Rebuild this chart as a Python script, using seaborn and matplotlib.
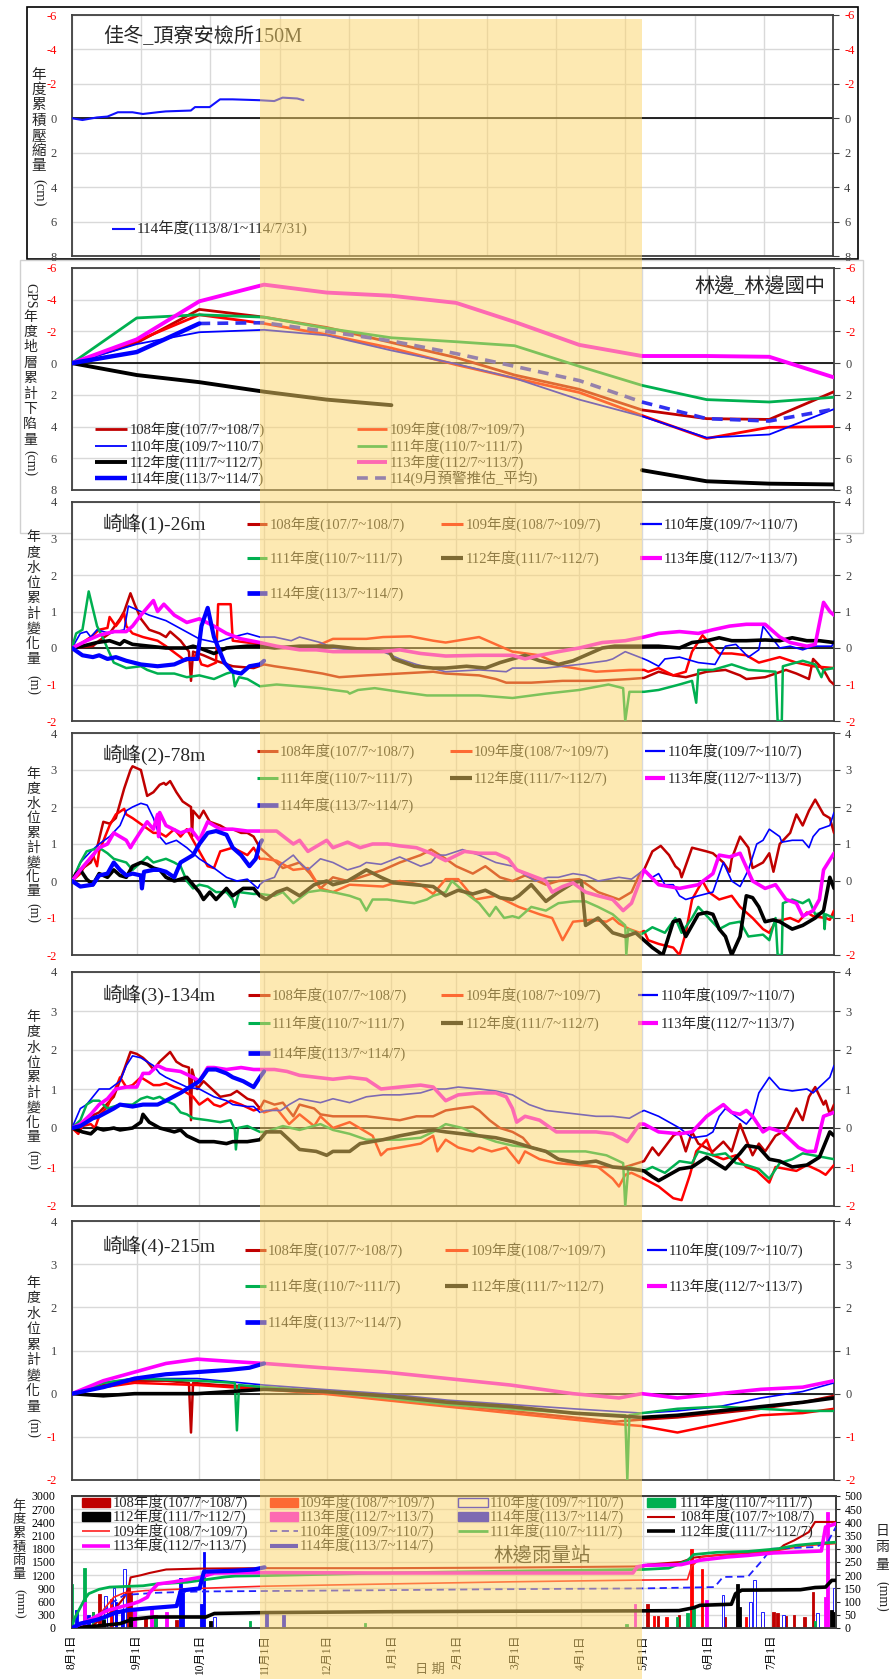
import matplotlib
matplotlib.use("Agg")
import matplotlib.pyplot as plt
import seaborn as sns
import pandas as pd
from matplotlib.patches import Rectangle
from matplotlib.lines import Line2D

sns.set_style("white")
plt.rcParams["font.family"] = ["Liberation Serif", "Noto Sans CJK TC"]
plt.rcParams["axes.unicode_minus"] = False

# ======================= DATA =======================
MONTH_DAYS = [0, 31, 61, 92, 122, 153, 184, 212, 243, 273, 304, 334, 365]
MONTH_LABELS = ["8月1日", "9月1日", "10月1日", "11月1日", "12月1日", "1月1日",
                "2月1日", "3月1日", "4月1日", "5月1日", "6月1日", "7月1日"]
YEARS = ["108", "109", "110", "111", "112", "113", "114"]
YEAR_LABELS = ["108年度(107/7~108/7)", "109年度(108/7~109/7)", "110年度(109/7~110/7)",
               "111年度(110/7~111/7)", "112年度(111/7~112/7)", "113年度(112/7~113/7)",
               "114年度(113/7~114/7)"]

# Panel 1: 佳冬_頂寮安檢所150M (cm, day since Aug 1)
jd_114 = [(0, 0), (5, 0.1), (12, -0.05), (17, -0.1), (22, -0.35), (29, -0.35), (34, -0.25),
          (41, -0.35), (45, -0.4), (57, -0.45), (59, -0.65), (66, -0.65), (71, -1.1), (77, -1.1),
          (90, -1.05), (97, -1.0), (101, -1.2), (108, -1.15), (111, -1.05)]

# Panel 2: GPS 林邊_林邊國中 (cm, monthly)
gps_108 = [0, -1.28, -3.39, -2.9, -2.25, -1.3, -0.35, 0.75, 1.65, 2.95, 3.5, 3.55, 1.8]
gps_109 = [0, -1.4, -3.05, -2.5, -1.8, -0.95, 0.1, 0.95, 1.85, 3.3, 4.75, 4.05, 4.0]
gps_110 = [0, -1.2, -1.95, -2.1, -1.75, -0.8, 0.05, 0.95, 2.3, 3.35, 4.7, 4.5, 2.9]
gps_111 = [0, -2.85, -3.05, -2.9, -2.2, -1.6, -1.35, -1.1, 0.2, 1.4, 2.3, 2.45, 2.15]
gps_112 = [0, 0.75, 1.2, 1.8, 2.3, 2.65, None, None, None, 6.75, 7.45, 7.6, 7.65]
gps_113 = [0, -1.5, -3.9, -4.95, -4.45, -4.25, -3.8, -2.6, -1.15, -0.45, -0.45, -0.4, 0.9]
gps_114 = [0, -0.7, -2.5, None, None, None, None, None, None, None, None, None, None]
gps_114_est = [None, None, -2.5, -2.55, -2.0, -1.4, -0.6, 0.2, 1.1, 2.45, 3.5, 3.65, 2.9]

# Panel 3: 崎峰(1)-26m (m)
qf1_108 = [(0, 0), (10, 0.05), (13, 0.2), (18, 0.4), (23, 0.8), (25, 1.0), (28, 1.5), (30, 1.2), (33, 0.8),
           (37, 0.5), (42, 0.4), (45, 0.3), (47, 0.45), (52, 0.2), (56, -0.1), (57, -0.9), (58, -0.1),
           (63, -0.2), (69, -0.35), (77, -0.5), (87, -0.55), (92, -0.45), (97, -0.5), (109, -0.6),
           (120, -0.7), (128, -0.8), (141, -0.75), (157, -0.7), (173, -0.65), (179, -0.7), (195, -0.75),
           (203, -0.85), (208, -0.95), (220, -0.95), (235, -0.9), (251, -0.9), (267, -0.85), (274, -0.82),
           (281, -0.65), (288, -0.75), (294, -0.8), (304, -0.65), (313, -0.6), (320, -0.75), (323, -0.85),
           (332, -0.8), (342, -0.6), (347, -0.7), (353, -0.85), (355, -0.3), (360, -0.6), (363, -0.9),
           (365, -1.0)]
qf1_109 = [(0, 0), (5, 0.15), (9, 0.3), (13, 0.5), (17, 0.55), (18, 0.85), (21, 0.6), (23, 0.75), (25, 0.95),
           (26, 0.6), (29, 0.4), (34, 0.3), (41, 0.2), (45, 0.05), (52, -0.25), (54, -0.35), (57, -0.3),
           (60, -0.15), (62, -0.45), (65, -0.5), (69, -0.4), (70, 1.2), (76, 1.2), (77, 0.2), (84, 0.15),
           (90, 0.1), (101, 0.0), (109, 0.0), (117, 0.05), (125, 0.25), (141, 0.25), (149, 0.3), (162, 0.32),
           (173, 0.2), (179, 0.15), (195, 0.3), (211, -0.1), (224, -0.2), (235, -0.5), (251, -0.65),
           (267, -0.6), (274, -0.6), (276, -0.65), (281, -0.55), (288, -0.75), (294, -0.65), (297, -0.1),
           (302, 0.35), (305, 0.15), (310, -0.15), (316, -0.15), (323, -0.2), (329, -0.4), (339, -0.25),
           (347, -0.4), (355, -0.5), (365, -0.55)]
qf1_110 = [(0, 0), (4, 0.4), (7, 0.45), (9, 0.3), (12, 0.5), (18, 0.4), (25, 0.5), (27, 1.15), (29, 1.1),
           (37, 0.9), (45, 0.75), (53, 0.5), (61, 0.25), (69, 0.15), (77, 0.3), (84, 0.4), (90, 0.3),
           (97, 0.3), (105, 0.2), (109, 0.3), (119, 0.15), (125, 0.0), (133, -0.05), (141, -0.1),
           (149, -0.1), (157, -0.3), (165, -0.45), (179, -0.65), (195, -0.6), (208, -0.65), (211, -0.55),
           (227, -0.55), (243, -0.45), (256, -0.35), (259, -0.3), (265, -0.1), (274, -0.3), (276, -0.35),
           (281, -0.5), (284, -0.3), (291, -0.25), (300, -0.4), (308, -0.45), (313, 0.05), (318, 0.1),
           (324, -0.25), (329, -0.05), (331, 0.6), (335, 0.3), (339, 0.0), (344, 0.05), (350, -0.05),
           (355, 0.05), (364, 0.05), (365, 0.2)]
qf1_111 = [(0, 0), (2, 0.4), (5, 0.5), (8, 1.55), (12, 0.6), (15, 0.25), (20, -0.4), (26, -0.55), (33, -0.5),
           (36, -0.6), (41, -0.7), (49, -0.7), (55, -0.8), (61, -0.75), (68, -0.85), (74, -0.7), (77, -0.65),
           (78, -1.05), (80, -0.8), (84, -0.85), (90, -1.05), (98, -1.0), (109, -1.05), (119, -1.1),
           (125, -1.15), (132, -1.2), (133, -1.25), (137, -1.15), (145, -1.1), (157, -1.2), (170, -1.3),
           (179, -1.3), (195, -1.3), (211, -1.37), (227, -1.25), (243, -1.15), (257, -1.0), (264, -1.1),
           (265, -2.0), (267, -1.2), (274, -1.2), (281, -1.15), (291, -1.0), (297, -0.9), (299, -1.5),
           (300, -0.6), (307, -0.6), (316, -0.45), (324, -0.6), (337, -0.65), (338, -2.0), (340, -2.0),
           (340.5, -0.5), (350, -0.35), (356, -0.45), (359, -0.8), (360, -0.6), (365, -0.55)]
qf1_112 = [(0, 0), (5, 0.05), (12, 0.15), (18, 0.2), (23, 0.1), (25, 0.2), (29, 0.1), (37, 0.05), (45, 0.0),
           (55, 0.0), (58, 0.05), (61, 0.0), (68, -0.15), (74, 0.0), (84, 0.05), (90, 0.05), (97, 0.0),
           (109, 0.05), (125, 0.05), (133, 0.0), (141, -0.05), (152, -0.1), (154, -0.3), (164, -0.5),
           (173, -0.55), (179, -0.55), (189, -0.5), (198, -0.55), (205, -0.4), (211, -0.3), (217, -0.2),
           (224, -0.35), (233, -0.45), (240, -0.35), (246, -0.2), (254, 0.0), (260, 0.05), (268, 0.05),
           (274, 0.05), (281, 0.05), (291, 0.0), (297, 0.15), (304, 0.2), (310, 0.28), (316, 0.2),
           (323, 0.2), (332, 0.22), (339, 0.2), (345, 0.28), (352, 0.2), (358, 0.2), (365, 0.15)]
qf1_113 = [(0, 0), (7, 0.2), (13, 0.35), (20, 0.45), (26, 0.45), (29, 0.6), (33, 0.9), (36, 1.1), (39, 1.3),
           (41, 1.0), (44, 1.2), (49, 0.9), (55, 0.7), (61, 0.8), (68, 0.6), (74, 0.4), (81, 0.25), (90, 0.15),
           (98, 0.05), (109, -0.05), (117, -0.05), (125, -0.1), (138, -0.1), (149, -0.1), (157, -0.05),
           (167, -0.15), (179, -0.22), (195, -0.2), (211, -0.2), (217, -0.3), (224, -0.2), (233, -0.1),
           (243, 0.0), (254, 0.15), (265, 0.2), (274, 0.3), (281, 0.4), (291, 0.45), (300, 0.4), (307, 0.5),
           (315, 0.6), (323, 0.65), (332, 0.65), (339, 0.3), (344, 0.15), (352, 0.05), (356, 0.1),
           (360, 1.25), (363, 1.0), (365, 0.9)]
qf1_114 = [(0, 0), (5, -0.2), (10, -0.25), (13, -0.2), (17, -0.3), (21, -0.25), (26, -0.35), (33, -0.45),
           (41, -0.5), (49, -0.45), (55, -0.3), (60, -0.3), (62, 0.6), (65, 1.1), (68, 0.3), (73, -0.4),
           (77, -0.65), (81, -0.7), (85, -0.5), (90, -0.45), (92, -0.35)]

# Panel 4: 崎峰(2)-78m (m)
qf2_108 = [(0, 0), (4, 0.3), (9, 0.5), (12, 0.9), (15, 1.6), (18, 1.55), (21, 1.7), (25, 2.5), (28, 3.0),
           (29, 3.1), (33, 3.0), (36, 2.3), (39, 2.4), (42, 2.6), (44, 2.65), (45, 2.6), (47, 2.7), (50, 2.4),
           (53, 2.15), (57, 2.0), (57.5, 1.2), (58, 1.9), (61, 1.7), (63, 1.9), (66, 1.6), (71, 1.5),
           (74, 1.4), (77, 1.4), (81, 1.3), (84, 1.3), (87, 1.2), (90, 0.9), (92, 0.8), (101, 0.35),
           (109, 0.5), (114, 0.2), (119, -0.2), (125, 0.1), (132, 0.0), (138, 0.1), (149, 0.3), (157, 0.5),
           (167, 0.7), (172, 0.85), (179, 0.6), (184, 0.4), (192, 0.2), (198, 0.4), (205, 0.1), (211, 0.0),
           (217, 0.15), (227, -0.1), (233, 0.0), (243, 0.05), (252, -0.3), (262, -0.5), (268, -0.3),
           (272, 0.2), (274, 0.3), (278, 0.8), (282, 0.95), (286, 0.7), (289, 0.4), (291, 0.3), (292, 0.1),
           (297, 0.9), (304, 0.8), (307, 0.75), (312, 0.5), (315, 0.25), (316, 0.6), (320, 1.2), (324, 0.9),
           (326, 0.35), (331, 0.5), (334, 0.75), (336, 0.25), (339, 1.0), (344, 1.3), (347, 1.8),
           (350, 1.5), (353, 1.9), (356, 2.2), (360, 1.8), (363, 1.7), (365, 1.3)]
qf2_109 = [(0, 0), (4, 0.2), (7, 0.5), (10, 0.7), (12, 0.4), (13, 0.8), (18, 1.5), (21, 1.8), (25, 1.95),
           (26, 1.8), (29, 1.7), (34, 1.5), (39, 1.3), (42, 1.3), (45, 1.2), (49, 1.4), (52, 1.2), (55, 1.4),
           (60, 0.9), (65, 0.4), (68, 0.35), (71, 0.8), (77, 0.9), (84, 0.7), (87, 0.9), (90, 0.6), (92, 0.6),
           (98, 0.55), (106, 0.3), (113, 0.35), (119, -0.2), (125, -0.3), (133, -0.1), (149, -0.15),
           (157, 0.0), (167, -0.1), (173, -0.35), (179, 0.05), (185, 0.05), (193, -0.5), (203, -0.4),
           (214, -0.7), (224, -0.9), (230, -1.0), (235, -1.6), (240, -1.1), (249, -1.05), (256, -1.1),
           (259, -1.0), (262, -1.15), (267, -1.3), (272, -1.4), (274, -1.35), (276, -1.6), (281, -1.7),
           (288, -1.8), (291, -2.0), (294, -1.4), (297, -0.5), (302, 0.0), (305, -0.3), (310, -0.5),
           (316, -0.4), (320, -0.7), (326, -1.0), (331, -1.3), (334, -1.4), (337, -1.1), (344, -1.0),
           (348, -1.1), (352, -0.85), (355, -0.95), (361, -1.0), (363, -1.05), (365, -0.8)]
qf2_110 = [(0, 0), (4, 0.5), (9, 0.8), (13, 1.0), (18, 1.2), (23, 1.5), (26, 1.9), (29, 2.0), (33, 2.1),
           (36, 2.05), (39, 1.7), (42, 1.2), (45, 1.0), (50, 1.1), (55, 0.9), (61, 0.6), (68, 0.35), (74, 0.1),
           (79, 0.0), (84, 0.05), (89, -0.2), (90, -0.1), (92, 0.0), (97, 0.1), (100, 0.45), (106, 0.7),
           (109, 0.5), (113, 0.3), (119, 0.6), (125, 0.5), (132, 0.3), (138, 0.4), (141, 0.5), (148, 0.45),
           (157, 0.65), (167, 0.4), (172, 0.5), (175, 0.7), (179, 0.7), (187, 0.85), (195, 0.7), (203, 0.5),
           (211, 0.4), (216, 0.2), (222, 0.0), (228, 0.1), (233, 0.1), (240, 0.2), (246, 0.15), (252, 0.0),
           (262, 0.1), (268, 0.05), (274, 0.3), (278, 0.1), (281, 0.2), (284, -0.1), (288, -0.1), (291, -0.4),
           (294, -0.5), (300, -0.4), (307, -0.3), (312, 0.5), (316, 0.0), (320, -0.15), (324, 0.3),
           (328, 1.0), (331, 1.1), (334, 1.4), (339, 1.2), (340, 1.05), (345, 1.1), (350, 1.1), (353, 0.9),
           (355, 1.2), (358, 1.4), (363, 1.5), (365, 1.85)]
qf2_111 = [(0, 0), (4, 0.5), (7, 0.8), (10, 0.85), (13, 0.9), (17, 0.75), (20, 0.6), (23, 0.55), (26, 0.5),
           (29, 0.3), (33, 0.5), (36, 0.65), (39, 0.5), (42, 0.55), (45, 0.6), (49, 0.5), (52, 0.4), (55, 0.0),
           (58, -0.2), (61, -0.1), (65, -0.15), (69, -0.3), (74, -0.3), (77, -0.5), (78, -0.7), (80, -0.3),
           (87, -0.35), (90, -0.35), (97, -0.4), (101, -0.3), (106, -0.6), (113, -0.3), (119, -0.25),
           (125, -0.3), (133, -0.4), (138, -0.5), (141, -0.8), (144, -0.5), (151, -0.5), (157, -0.55),
           (164, -0.6), (170, -0.5), (173, -0.4), (179, -0.3), (182, 0.0), (188, -0.3), (195, -0.6),
           (200, -0.95), (203, -0.7), (207, -1.0), (211, -0.95), (214, -1.0), (220, -0.7), (227, -0.8),
           (233, -0.6), (240, -0.55), (246, -0.55), (252, -0.7), (259, -0.9), (265, -1.2), (265.5, -2.0),
           (266.5, -1.3), (272, -1.45), (274, -1.4), (278, -1.25), (284, -1.4), (289, -1.0), (292, -1.4),
           (297, -1.0), (300, -0.7), (305, -1.0), (310, -1.3), (315, -1.15), (320, -1.1), (324, -1.5),
           (331, -1.45), (334, -1.6), (337, -1.0), (338, -2.0), (340, -2.0), (340.5, -0.6), (345, -0.5),
           (350, -0.6), (353, -0.5), (356, -0.9), (360, -0.85), (360.5, -1.3), (361, -0.9), (365, -1.0)]
qf2_112 = [(0, 0), (2, 0.2), (4, 0.3), (7, 0.05), (10, -0.1), (13, 0.2), (17, 0.1), (20, 0.3), (23, 0.15),
           (26, 0.1), (29, 0.4), (33, 0.5), (36, 0.45), (39, 0.35), (42, 0.3), (45, 0.1), (49, 0.0), (55, 0.1),
           (58, -0.1), (61, -0.3), (63, -0.5), (66, -0.3), (69, -0.5), (74, -0.2), (77, -0.4), (82, -0.2),
           (87, -0.2), (90, -0.4), (93, -0.5), (98, -0.3), (103, -0.2), (109, -0.4), (116, -0.1), (122, 0.0),
           (125, -0.1), (132, 0.0), (138, 0.2), (141, 0.3), (148, 0.1), (154, -0.05), (164, -0.1),
           (173, -0.15), (179, -0.4), (185, -0.25), (192, -0.35), (198, -0.25), (205, -0.45), (211, -0.5),
           (214, -0.4), (220, -0.1), (227, -0.55), (233, -0.3), (240, -0.05), (244, 0.0), (246, -1.2),
           (252, -1.0), (259, -1.4), (265, -1.5), (270, -1.4), (274, -1.6), (278, -1.8), (283, -2.0),
           (288, -1.1), (291, -1.05), (294, -1.5), (300, -0.9), (304, -0.85), (307, -0.9), (310, -1.3),
           (313, -1.5), (316, -2.0), (320, -1.5), (323, -0.4), (326, -0.45), (329, -0.7), (332, -1.1),
           (336, -1.05), (339, -1.1), (345, -1.3), (350, -1.2), (353, -1.1), (356, -1.0), (360, -0.8),
           (363, 0.1), (365, -0.2)]
qf2_113 = [(0, 0), (4, 0.3), (7, 0.5), (10, 0.7), (13, 0.9), (17, 1.0), (20, 1.3), (23, 1.2), (26, 1.1),
           (28, 0.9), (29, 1.0), (33, 1.35), (36, 1.6), (39, 1.4), (41, 1.8), (41.5, 1.2), (42, 1.85),
           (45, 1.5), (52, 1.3), (57, 1.4), (61, 1.1), (65, 1.6), (71, 1.4), (77, 1.4), (84, 1.35), (90, 1.35),
           (98, 1.35), (106, 1.0), (109, 1.1), (113, 0.8), (119, 1.0), (122, 1.1), (125, 0.9), (132, 1.05),
           (138, 0.9), (144, 1.0), (151, 1.0), (157, 0.95), (165, 0.9), (172, 0.75), (179, 0.55), (188, 0.8),
           (195, 0.75), (203, 0.75), (209, 0.6), (213, 0.3), (220, 0.15), (227, 0.0), (230, -0.3),
           (235, -0.15), (240, -0.05), (246, -0.3), (252, -0.4), (259, -0.5), (264, -0.8), (268, -0.6),
           (272, 0.0), (274, 0.3), (281, -0.1), (291, -0.2), (300, -0.1), (307, 0.2), (310, 0.7),
           (315, 0.65), (320, 0.75), (326, 0.0), (332, -0.2), (337, -0.1), (342, -0.5), (347, -0.6),
           (350, -0.95), (355, -0.8), (358, -0.5), (360, 0.3), (365, 0.75)]
qf2_114 = [(0, 0), (4, -0.15), (10, -0.1), (13, 0.15), (17, 0.2), (20, 0.5), (23, 0.3), (26, 0.15), (29, 0.2),
           (33, 0.15), (33.5, -0.2), (34.5, 0.25), (39, 0.3), (42, 0.3), (45, 0.25), (49, 0.1), (52, 0.5),
           (55, 0.6), (58, 0.7), (61, 1.0), (65, 1.3), (69, 1.35), (74, 1.25), (77, 0.9), (81, 0.7),
           (85, 0.4), (88, 0.6), (90, 1.0), (91, 1.1)]

# Panel 5: 崎峰(3)-134m (m)
qf3_108 = [(0, 0), (4, 0.1), (9, 0.3), (13, 0.4), (20, 0.8), (25, 1.5), (28, 1.95), (31, 1.9), (34, 1.8),
           (36, 1.7), (39, 1.5), (42, 1.7), (45, 1.85), (47, 1.95), (50, 1.7), (53, 1.6), (56, 1.55),
           (57, 0.2), (57.5, 1.5), (60, 1.0), (63, 1.2), (66, 1.05), (71, 0.8), (76, 0.85), (79, 0.95),
           (84, 0.75), (87, 0.7), (90, 0.5), (92, 0.7), (97, 0.6), (101, 0.65), (106, 0.3), (109, 0.6),
           (116, 0.5), (119, 0.35), (125, 0.3), (133, 0.3), (141, 0.3), (149, 0.25), (157, 0.2), (165, 0.3),
           (173, 0.3), (179, 0.45), (185, 0.5), (192, 0.55), (195, 0.45), (200, 0.2), (205, 0.0),
           (211, -0.1), (216, -0.25), (220, -0.5), (227, -0.6), (233, -0.8), (240, -0.9), (246, -0.95),
           (252, -1.0), (265, -1.0), (274, -0.85), (278, -0.5), (281, -0.7), (288, -0.2), (291, -0.1),
           (294, -0.6), (297, -0.1), (300, -0.4), (307, -0.6), (312, -0.35), (316, -0.6), (320, 0.1),
           (326, -0.7), (329, -0.4), (332, -0.6), (337, -0.2), (342, -0.05), (347, 0.5), (350, 0.2),
           (353, 0.8), (356, 1.05), (360, 0.6), (361, 0.7), (363, 0.35), (365, 0.6)]
qf3_109 = [(0, 0), (3, -0.15), (5, 0.05), (9, 0.1), (11, 0.0), (13, 0.3), (17, 0.55), (20, 0.9), (23, 1.3),
           (26, 1.05), (29, 1.1), (33, 1.3), (36, 1.2), (39, 1.1), (42, 1.1), (45, 1.15), (49, 1.05),
           (52, 1.0), (55, 0.9), (58, 0.8), (61, 0.6), (65, 0.75), (68, 0.6), (71, 0.55), (76, 0.7),
           (81, 0.6), (87, 0.45), (90, 0.5), (92, 0.4), (98, 0.5), (104, 0.1), (109, 0.35), (116, 0.05),
           (119, 0.3), (125, 0.0), (133, 0.15), (144, -0.2), (148, -0.7), (151, -0.55), (157, -0.5),
           (167, -0.4), (173, -0.2), (175, -0.6), (179, -0.3), (185, -0.5), (192, -0.6), (195, -0.5),
           (201, -0.6), (208, -0.5), (214, -0.9), (217, -0.6), (224, -0.8), (232, -0.9), (243, -0.95),
           (252, -1.0), (259, -1.3), (262, -1.5), (265, -1.2), (268, -1.15), (274, -1.3), (281, -1.5),
           (288, -1.8), (292, -1.85), (296, -1.2), (299, -0.6), (304, -0.3), (307, -0.7), (312, -0.8),
           (318, -0.7), (323, -1.0), (328, -1.1), (334, -1.4), (337, -1.0), (347, -1.1), (352, -0.95),
           (358, -1.1), (361, -1.2), (365, -0.95)]
qf3_110 = [(0, 0), (4, 0.5), (7, 0.6), (10, 0.8), (13, 1.0), (18, 1.0), (23, 1.2), (26, 1.6), (29, 1.85),
           (33, 1.8), (36, 1.7), (39, 1.6), (42, 1.4), (45, 1.3), (49, 1.2), (55, 1.05), (61, 1.0), (68, 0.8),
           (74, 0.7), (77, 0.6), (84, 0.55), (87, 0.55), (90, 0.4), (93, 0.45), (100, 0.45), (104, 0.6),
           (109, 0.75), (119, 0.65), (125, 0.75), (133, 0.65), (141, 0.8), (149, 0.85), (157, 0.85),
           (167, 0.9), (173, 1.0), (179, 1.0), (185, 1.05), (195, 1.0), (203, 0.95), (211, 0.85), (219, 0.6),
           (227, 0.45), (235, 0.4), (243, 0.35), (251, 0.3), (259, 0.3), (267, 0.25), (272, 0.4),
           (274, 0.45), (281, 0.3), (291, 0.0), (297, -0.25), (304, -0.2), (307, -0.1), (310, 0.3),
           (313, 0.5), (318, 0.3), (323, 0.1), (326, 0.3), (329, 0.9), (334, 1.3), (339, 1.0), (345, 0.95),
           (352, 1.0), (355, 0.9), (358, 1.05), (363, 1.3), (365, 1.6)]
qf3_111 = [(0, 0), (4, 0.2), (7, 0.6), (10, 0.7), (13, 0.7), (17, 0.5), (23, 0.6), (29, 0.6), (33, 0.75),
           (36, 0.8), (39, 0.75), (42, 0.8), (45, 0.7), (49, 0.6), (52, 0.4), (55, 0.35), (58, 0.25),
           (65, 0.2), (71, 0.15), (76, 0.2), (78, -0.05), (78.5, -0.55), (79.5, 0.0), (84, 0.05), (90, -0.1),
           (93, -0.1), (101, 0.05), (109, -0.05), (119, 0.1), (125, -0.05), (133, -0.15), (141, -0.3),
           (149, -0.3), (157, -0.3), (167, -0.25), (173, -0.1), (179, 0.1), (187, 0.0), (195, -0.2),
           (203, -0.35), (211, -0.45), (220, -0.5), (227, -0.6), (246, -0.6), (256, -0.7), (264, -0.9),
           (265, -2.0), (266.5, -1.0), (274, -1.1), (278, -1.0), (284, -1.15), (291, -0.85), (297, -0.9),
           (300, -0.6), (307, -0.7), (313, -0.65), (318, -0.9), (323, -0.95), (329, -1.05), (334, -1.3),
           (339, -0.9), (345, -0.8), (350, -0.65), (355, -0.7), (360, -0.75), (365, -0.8)]
qf3_112 = [(0, 0), (5, -0.1), (9, -0.15), (12, 0.0), (15, -0.05), (20, 0.0), (23, -0.05), (29, 0.0),
           (33, 0.15), (34, 0.35), (37, 0.15), (42, 0.0), (49, -0.1), (52, -0.05), (55, -0.2), (61, -0.35),
           (68, -0.35), (74, -0.4), (77, -0.35), (84, -0.35), (90, -0.3), (93, -0.1), (100, -0.1),
           (104, -0.3), (109, -0.55), (117, -0.6), (122, -0.7), (125, -0.6), (133, -0.6), (138, -0.4),
           (149, -0.3), (157, -0.2), (167, -0.1), (173, -0.05), (179, -0.1), (187, -0.15), (195, -0.2),
           (203, -0.25), (211, -0.35), (220, -0.5), (227, -0.6), (233, -0.8), (243, -0.9), (251, -0.85),
           (259, -1.0), (268, -1.05), (274, -1.1), (278, -1.25), (281, -1.35), (286, -1.2), (291, -1.05),
           (297, -1.0), (304, -0.75), (310, -0.95), (313, -1.05), (320, -0.65), (323, -0.45), (329, -0.5),
           (334, -0.8), (339, -0.85), (345, -1.0), (352, -0.95), (358, -0.75), (363, -0.1), (365, -0.2)]
qf3_113 = [(0, 0), (4, 0.1), (9, 0.35), (13, 0.6), (17, 0.75), (21, 1.0), (26, 1.05), (31, 1.05), (34, 1.4),
           (37, 1.4), (41, 1.6), (45, 1.5), (52, 1.45), (58, 1.3), (61, 1.2), (65, 1.55), (68, 1.55),
           (74, 1.5), (81, 1.55), (87, 1.5), (90, 1.5), (97, 1.5), (103, 1.45), (109, 1.35), (117, 1.3),
           (125, 1.25), (133, 1.3), (141, 1.25), (148, 1.0), (157, 1.05), (167, 1.1), (173, 1.05), (179, 0.7),
           (185, 0.85), (195, 0.9), (203, 0.9), (208, 0.8), (211, 0.5), (213, 0.15), (217, 0.3), (224, 0.2),
           (232, -0.1), (251, -0.1), (259, -0.15), (266, -0.35), (272, 0.1), (274, 0.1), (281, -0.1),
           (291, -0.15), (297, -0.1), (304, 0.3), (312, 0.6), (316, 0.4), (320, 0.35), (323, 0.45),
           (326, 0.3), (331, -0.1), (334, 0.0), (340, -0.1), (348, -0.5), (352, -0.6), (356, -0.6),
           (360, 0.3), (365, 0.4)]
qf3_114 = [(0, 0), (4, 0.05), (10, 0.25), (13, 0.3), (20, 0.5), (23, 0.6), (29, 0.55), (34, 0.6), (41, 0.6),
           (45, 0.7), (52, 0.9), (58, 1.1), (61, 1.2), (65, 1.5), (69, 1.5), (74, 1.4), (77, 1.3), (82, 1.2),
           (87, 1.05), (90, 1.3), (92, 1.45)]

# Panel 6: 崎峰(4)-215m (m)
qf4_108 = [(0, 0), (15, 0.2), (30, 0.3), (45, 0.3), (56, 0.25), (57, -0.9), (58, 0.25), (70, 0.2),
           (92, 0.15), (120, 0.05), (150, -0.1), (180, -0.25), (210, -0.4), (240, -0.55), (260, -0.65),
           (273, -0.6), (290, -0.55), (310, -0.45), (330, -0.35), (350, -0.2), (365, -0.05)]
qf4_109 = [(0, 0), (15, 0.15), (30, 0.25), (60, 0.2), (92, 0.1), (120, 0.0), (150, -0.15), (180, -0.3),
           (210, -0.45), (240, -0.6), (260, -0.7), (273, -0.75), (290, -0.9), (310, -0.7), (330, -0.5),
           (350, -0.45), (365, -0.35)]
qf4_110 = [(0, 0), (15, 0.25), (30, 0.35), (60, 0.35), (92, 0.2), (120, 0.1), (150, 0.0), (180, -0.15),
           (210, -0.25), (240, -0.35), (273, -0.45), (290, -0.4), (310, -0.3), (330, -0.1), (350, 0.05),
           (365, 0.25)]
qf4_111 = [(0, 0), (15, 0.25), (30, 0.35), (60, 0.3), (78, 0.25), (79, -0.85), (80, 0.2), (92, 0.15),
           (120, 0.05), (150, -0.1), (180, -0.25), (210, -0.35), (240, -0.45), (265, -0.5), (266, -2.0),
           (267, -0.5), (273, -0.45), (290, -0.35), (310, -0.3), (330, -0.35), (350, -0.4), (365, -0.4)]
qf4_112 = [(0, 0), (15, -0.05), (30, 0.0), (60, 0.0), (92, 0.1), (120, 0.05), (150, -0.05), (180, -0.2),
           (210, -0.3), (240, -0.45), (273, -0.55), (290, -0.5), (310, -0.4), (330, -0.3), (350, -0.2),
           (365, -0.1)]
qf4_113 = [(0, 0), (15, 0.3), (30, 0.5), (45, 0.7), (60, 0.8), (75, 0.75), (92, 0.7), (120, 0.6), (150, 0.5),
           (180, 0.35), (210, 0.2), (240, 0.0), (262, -0.1), (273, 0.0), (290, -0.1), (310, 0.0), (330, 0.1),
           (350, 0.15), (365, 0.3)]
qf4_114 = [(0, 0), (15, 0.15), (30, 0.35), (45, 0.45), (60, 0.5), (75, 0.55), (85, 0.6), (92, 0.7)]

# Panel 7: 林邊雨量站 cumulative rain (mm, left axis)
cum_108 = [(0, 0), (10, 50), (13, 180), (20, 400), (25, 700), (27, 900), (28, 1150), (33, 1200), (37, 1250),
           (45, 1330), (61, 1350), (92, 1360), (150, 1360), (200, 1370), (273, 1400), (275, 1440),
           (291, 1500), (297, 1600), (307, 1650), (323, 1705), (337, 1750), (340, 1880), (345, 1990),
           (348, 2070), (352, 2180), (355, 2410), (365, 2410)]
cum_109 = [(0, 0), (13, 300), (20, 700), (25, 800), (35, 850), (61, 900), (92, 950), (150, 1000),
           (210, 1050), (273, 1090), (294, 1100), (296, 1400), (301, 1625), (320, 1700), (337, 1760),
           (350, 1870), (365, 1920)]
cum_110 = [(0, 0), (10, 150), (20, 600), (25, 750), (40, 800), (61, 830), (92, 840), (150, 860), (200, 880),
           (273, 900), (307, 930), (311, 1160), (323, 1170), (330, 1550), (334, 1800), (355, 1840),
           (361, 1950), (365, 2300)]
cum_111 = [(0, 0), (1, 200), (6, 650), (8, 780), (13, 880), (18, 930), (34, 960), (40, 1000), (55, 1040),
           (61, 1080), (73, 1160), (78, 1180), (92, 1190), (150, 1250), (220, 1300), (273, 1330),
           (285, 1360), (294, 1530), (297, 1670), (308, 1720), (323, 1740), (337, 1800), (346, 1880),
           (355, 1920), (365, 1950)]
cum_112 = [(0, 0), (13, 50), (23, 100), (29, 200), (39, 250), (64, 250), (68, 330), (92, 350), (150, 370),
           (200, 380), (273, 390), (290, 395), (297, 460), (300, 515), (315, 540), (317, 780), (320, 860),
           (348, 870), (355, 920), (360, 930), (363, 1083), (365, 1083)]
cum_113 = [(0, 0), (9, 200), (17, 400), (29, 550), (32, 600), (36, 700), (37, 800), (41, 1000), (49, 1050),
           (55, 1100), (61, 1150), (68, 1250), (92, 1260), (150, 1250), (268, 1250), (270, 1390),
           (274, 1424), (291, 1440), (300, 1540), (313, 1614), (323, 1650), (335, 1705), (358, 1750),
           (360, 2295), (365, 2370)]
cum_114 = [(0, 0), (4, 100), (13, 200), (21, 350), (26, 400), (37, 450), (50, 500), (52, 850), (61, 900),
           (63, 1280), (77, 1300), (87, 1330), (92, 1380)]

# daily rain (mm, right axis)
day_108 = [(13, 130), (21, 60), (27, 155), (28, 136), (35, 40), (50, 30), (275, 90), (280, 45), (290, 50),
           (312, 40), (335, 60), (337, 55), (341, 45), (345, 50), (350, 40), (354, 136)]
day_109 = [(10, 60), (16, 90), (19, 110), (24, 70), (40, 50), (278, 45), (284, 40), (296, 300), (301, 225),
           (322, 40), (330, 35)]
day_110 = [(16, 120), (20, 150), (25, 225), (30, 60), (68, 40), (311, 126), (324, 100), (326, 180),
           (330, 60), (340, 50), (356, 55), (364, 150)]
day_111 = [(0, 168), (6, 228), (10, 60), (15, 40), (40, 40), (85, 25), (140, 20), (265, 15), (289, 40),
           (294, 55), (297, 75), (355, 25)]
day_112 = [(15, 30), (28, 40), (66, 25), (318, 168), (319, 80), (363, 70), (364, 60)]
day_113 = [(6, 98), (30, 70), (38, 80), (45, 60), (269, 92), (303, 105), (360, 117), (361, 440)]
day_114 = [(2, 70), (8, 50), (21, 100), (24, 60), (52, 190), (53, 150), (62, 90), (63, 288), (93, 55),
           (101, 48)]

# ======================= STYLE / LAYOUT =======================
W, H = 889, 1679
fig = plt.figure(figsize=(W / 100, H / 100), dpi=100)


def fx(x):
    return x / W


def fy(y):
    return 1 - y / H


def make_axes(l, t, r, b):
    return fig.add_axes([fx(l), fy(b), (r - l) / W, (b - t) / H])


COL = {"108": "#C00000", "109": "#FF0000", "110": "#0000FF", "111": "#00B050",
       "112": "#000000", "113": "#FF00FF", "114": "#0000FF"}
LW = {"108": 1.8, "109": 1.8, "110": 1.2, "111": 1.8, "112": 2.6, "113": 2.6, "114": 3.0}
NEG, POS, TXT = "#FF0000", "#404040", "#262626"


def draw_line(ax, pts, color, lw, ls="-", z=3):
    df = pd.DataFrame(pts, columns=["day", "value"])
    sns.lineplot(data=df, x="day", y="value", ax=ax, color=color, linewidth=lw, linestyle=ls,
                 estimator=None, sort=False, legend=False, zorder=z)


def style_axes(ax, ylim, yticks, xgrid, fs=9, lpad=11, rpad=4):
    ax.set_xlabel("")
    ax.set_ylabel("")
    ax.set_xlim(0, 365)
    ax.set_ylim(*ylim)
    ax.set_xticks(xgrid)
    ax.set_xticklabels([])
    ax.set_yticks(yticks)
    labs = ax.set_yticklabels([f"{v:g}" for v in yticks], fontsize=fs)
    for lab, v in zip(labs, yticks):
        lab.set_color(NEG if v < 0 else POS)
    ax.tick_params(axis="y", length=0, pad=lpad)
    ax.tick_params(axis="x", length=3, direction="in", color="#404040")
    ax.grid(True, color="#D9D9D9", lw=1)
    ax.set_axisbelow(True)
    for s in ax.spines.values():
        s.set_color("#404040")
        s.set_linewidth(1.3)
    ax.axhline(0, color="#000000", lw=1.2, zorder=2)
    tw = ax.twinx()
    tw.set_ylim(*ylim)
    tw.set_yticks(yticks)
    labs = tw.set_yticklabels([f"{v:g}" for v in yticks], fontsize=fs)
    for lab, v in zip(labs, yticks):
        lab.set_color(NEG if v < 0 else POS)
    tw.tick_params(axis="y", length=4, direction="out", pad=rpad, color="#404040")
    for s in tw.spines.values():
        s.set_visible(False)
    return tw


def vlabel(x, y0, step, chars, fs, tail, tail_y, head=None, head_y=None):
    if head:
        fig.text(fx(x), fy(head_y), head, rotation=270, fontsize=fs, ha="center", va="center", color=TXT)
    for i, c in enumerate(chars):
        fig.text(fx(x), fy(y0 + i * step), c, fontsize=fs, ha="center", va="center", color=TXT)
    fig.text(fx(x), fy(tail_y), tail, rotation=270, fontsize=fs, ha="center", va="center", color=TXT)


def leg_line(x0, x1, y, color, lw, ls="-"):
    fig.add_artist(Line2D([fx(x0), fx(x1)], [fy(y), fy(y)], transform=fig.transFigure,
                          color=color, lw=lw, ls=ls, zorder=4, solid_capstyle="butt"))


def leg_bar(x0, x1, y, face, edge, h=9):
    fig.add_artist(Rectangle((fx(x0), fy(y + h / 2)), (x1 - x0) / W, h / H, transform=fig.transFigure,
                             facecolor=face, edgecolor=edge, lw=1, zorder=4))


def leg_text(x, y, s, fs=10.5):
    fig.text(fx(x), fy(y), s, fontsize=fs, ha="left", va="center", color=TXT, zorder=4)


# ---------- outer chart frames ----------
fig.add_artist(Rectangle((fx(27), fy(259)), (858 - 27) / W, (259 - 7) / H, transform=fig.transFigure,
                         fill=False, edgecolor="#000000", lw=1.2, zorder=-1))
fig.add_artist(Rectangle((fx(20), fy(533)), (863 - 20) / W, (533 - 260) / H, transform=fig.transFigure,
                         fill=False, edgecolor="#D0D0D0", lw=1.0, zorder=-1))

# ---------- Panel 1 ----------
ax1 = make_axes(72, 15, 833, 256)
draw_line(ax1, jd_114, "#1010FF", 1.5)
grid12 = [365 * i / 11 for i in range(12)]
style_axes(ax1, (8, -6), [-6, -4, -2, 0, 2, 4, 6, 8], grid12)
fig.text(fx(103), fy(36), "佳冬_頂寮安檢所150M", fontsize=14.5, ha="left", va="center", color=TXT)
leg_line(112, 135, 229, "#1010FF", 1.5)
leg_text(137, 229, "114年度(113/8/1~114/7/31)", fs=11)
vlabel(39, 75, 15.3, "年度累積壓縮量", 10.5, "(cm)", 193)

# ---------- Panel 2 GPS ----------
ax2 = make_axes(72, 268, 834, 490)


def segs(days, vals):
    out, cur = [], []
    for d, v in zip(days, vals):
        if v is None:
            if cur:
                out.append(cur)
            cur = []
        else:
            cur.append((d, v))
    if cur:
        out.append(cur)
    return out


gps_series = [("108", gps_108), ("109", gps_109), ("110", gps_110), ("111", gps_111),
              ("112", gps_112), ("113", gps_113)]
gps_lw = {"108": 2.0, "109": 2.0, "110": 1.3, "111": 2.0, "112": 2.8, "113": 2.8, "114": 3.2}
for yr, vals in gps_series:
    for sg in segs(MONTH_DAYS, vals):
        draw_line(ax2, sg, COL[yr], gps_lw[yr])
for sg in segs(MONTH_DAYS, gps_114_est):
    draw_line(ax2, sg, "#3030F0", 2.6, ls=(0, (3, 2)))
for sg in segs(MONTH_DAYS, gps_114):
    draw_line(ax2, sg, "#0000FF", 3.2)
style_axes(ax2, (8, -6), [-6, -4, -2, 0, 2, 4, 6, 8], MONTH_DAYS)
fig.text(fx(825), fy(287), "林邊_林邊國中", fontsize=14.5, ha="right", va="center", color=TXT)
gps_leg = [[("108", "-"), ("109", "-")], [("110", "-"), ("111", "-")],
           [("112", "-"), ("113", "-")], [("114", "-"), ("est", "--")]]
rows2 = [429, 446, 462, 478]
cols2 = [(95, 127, 130), (357, 387, 390)]
for r, row in enumerate(gps_leg):
    for c, (yr, ls) in enumerate(row):
        x0, x1, xt = cols2[c]
        if yr == "est":
            leg_line(x0, x1, rows2[r], "#3030F0", 2.6, ls=(0, (3, 2)))
            leg_text(xt, rows2[r], "114(9月預警推估_平均)")
        else:
            leg_line(x0, x1, rows2[r], COL[yr], gps_lw[yr])
            leg_text(xt, rows2[r], YEAR_LABELS[YEARS.index(yr)])
vlabel(30, 317, 15.4, "年度地層累計下陷量", 10, "(cm)", 463, head="GPS", head_y=296)

# ---------- Panels 3-6 water level ----------
wl_panels = [
    ((72, 502, 834, 721), "崎峰(1)-26m", 524,
     [qf1_108, qf1_109, qf1_110, qf1_111, qf1_112, qf1_113, qf1_114],
     [(247, 267, 270), (441, 463, 466), (640, 662, 664)], [524, 558, 593],
     (538, 15.2, 685)),
    ((72, 733, 834, 955), "崎峰(2)-78m", 755,
     [qf2_108, qf2_109, qf2_110, qf2_111, qf2_112, qf2_113, qf2_114],
     [(257, 278, 280), (450, 472, 474), (645, 665, 668)], [751, 778, 805],
     (775, 14.6, 913)),
    ((72, 972, 834, 1206), "崎峰(3)-134m", 995,
     [qf3_108, qf3_109, qf3_110, qf3_111, qf3_112, qf3_113, qf3_114],
     [(248, 270, 272), (441, 463, 466), (638, 658, 661)], [995, 1023, 1053],
     (1018, 15.0, 1160)),
    ((72, 1221, 834, 1480), "崎峰(4)-215m", 1246,
     [qf4_108, qf4_109, qf4_110, qf4_111, qf4_112, qf4_113, qf4_114],
     [(245, 266, 268), (445, 468, 471), (647, 667, 669)], [1250, 1286, 1322],
     (1283, 15.5, 1428)),
]
for box, title, ty, series, cols, rows, lab in wl_panels:
    ax = make_axes(*box)
    for yr, pts in zip(YEARS, series):
        draw_line(ax, pts, COL[yr], LW[yr])
    style_axes(ax, (-2, 4), [-2, -1, 0, 1, 2, 3, 4], MONTH_DAYS)
    fig.text(fx(103), fy(ty), title, fontsize=14, ha="left", va="center", color=TXT)
    for i, yr in enumerate(YEARS):
        r, c = divmod(i, 3)
        x0, x1, xt = cols[c]
        leg_line(x0, x1, rows[r], COL[yr], LW[yr] + 0.4)
        leg_text(xt, rows[r], YEAR_LABELS[i])
    vlabel(33, lab[0], lab[1], "年度水位累計變化量", 10, "(m)", lab[2])

# ---------- Panel 7 rain ----------
axr = make_axes(72, 1496, 836, 1628)
axb = axr.twinx()
bar_sets = [("108", day_108, "#C00000", "#C00000"), ("109", day_109, "#FF0000", "#FF0000"),
            ("110", day_110, "white", "#0000FF"), ("111", day_111, "#00B050", "#00B050"),
            ("112", day_112, "#000000", "#000000"), ("113", day_113, "#FF00FF", "#FF00FF"),
            ("114", day_114, "#0000FF", "#0000FF")]
for yr, pts, fc, ec in bar_sets:
    d = [p[0] for p in pts]
    v = [p[1] for p in pts]
    axb.bar(d, v, width=1.3, color=fc, edgecolor=ec, lw=0.6, zorder=3)
axb.set_ylim(0, 500)
axb.set_yticks(list(range(0, 501, 50)))
axb.set_yticklabels([str(v) for v in range(0, 501, 50)], fontsize=8.5, color="#000000")
axb.tick_params(axis="y", length=3, direction="out", pad=3)
axb.grid(True, axis="y", color="#D9D9D9", lw=1)
for d in MONTH_DAYS[1:-1]:
    axb.axvline(d, color="#D9D9D9", lw=1, zorder=0.5)
axb.set_axisbelow(True)
axb.patch.set_visible(True)
axb.patch.set_facecolor("white")

cum_sets = [("108", cum_108, "#C00000", 1.5, "-"), ("109", cum_109, "#FF2020", 1.2, "-"),
            ("110", cum_110, "#2020FF", 1.3, (0, (4, 2.5))), ("111", cum_111, "#00B050", 2.0, "-"),
            ("112", cum_112, "#000000", 2.6, "-"), ("113", cum_113, "#FF00FF", 2.6, "-"),
            ("114", cum_114, "#0000FF", 3.0, "-")]
for yr, pts, c, lw, ls in cum_sets:
    draw_line(axr, pts, c, lw, ls=ls)
axr.set_xlabel("")
axr.set_ylabel("")
axr.set_zorder(axb.get_zorder() + 1)
axr.patch.set_visible(False)
axr.set_xlim(0, 365)
axr.set_ylim(0, 3000)
axr.set_yticks(list(range(0, 3001, 300)))
axr.set_yticklabels([str(v) for v in range(0, 3001, 300)], fontsize=8.5, color="#000000")
axr.tick_params(axis="y", length=0, pad=12)
axr.set_xticks(MONTH_DAYS[:-1])
axr.set_xticklabels(MONTH_LABELS, rotation=90, fontsize=8.3, color="#000000")
axr.tick_params(axis="x", length=0, pad=5)
for a in (axr, axb):
    for s in a.spines.values():
        s.set_color("#404040")
        s.set_linewidth(1.3)
fig.text(fx(430), fy(1670), "日 期", fontsize=9.5, ha="center", va="center", color=TXT)
fig.text(fx(493), fy(1555), "林邊雨量站", fontsize=14, ha="left", va="center", color=TXT)
vlabel(19, 1507, 13.6, "年度累積雨量", 9.5, "(mm)", 1604)
vlabel(882, 1531, 17, "日雨量", 10, "(mm)", 1596)

rows7 = [1502, 1516.5, 1531, 1545.5]
cols7 = [(82, 110, 113), (270, 298, 300), (458, 488, 490), (647, 675, 680)]
rain_leg = [
    [("bar", "#C00000", "#C00000", "108"), ("bar", "#FF0000", "#FF0000", "109"),
     ("bar", "white", "#0000FF", "110"), ("bar", "#00B050", "#00B050", "111")],
    [("bar", "#000000", "#000000", "112"), ("bar", "#FF00FF", "#FF00FF", "113"),
     ("bar", "#0000FF", "#0000FF", "114"), ("line", "#C00000", 1.5, "108")],
    [("line", "#FF2020", 1.2, "109"), ("dash", "#2020FF", 1.3, "110"),
     ("line", "#00B050", 2.0, "111"), ("line", "#000000", 2.6, "112")],
    [("line", "#FF00FF", 2.6, "113"), ("line", "#0000FF", 3.0, "114")],
]
for r, row in enumerate(rain_leg):
    for c, ent in enumerate(row):
        x0, x1, xt = cols7[c]
        kind = ent[0]
        if kind == "bar":
            leg_bar(x0, x1, rows7[r], ent[1], ent[2])
        elif kind == "line":
            leg_line(x0, x1, rows7[r], ent[1], ent[2])
        else:
            leg_line(x0, x1, rows7[r], ent[1], ent[2], ls=(0, (4, 2.5)))
        leg_text(xt, rows7[r], YEAR_LABELS[YEARS.index(ent[3])], fs=10.5)

# ---------- dry-season shading overlay ----------
fig.add_artist(Rectangle((fx(260), 0), (642 - 260) / W, fy(19), transform=fig.transFigure,
                         facecolor="#FDD567", alpha=0.5, edgecolor="none", zorder=20))

fig.savefig("out.png", dpi=100)
